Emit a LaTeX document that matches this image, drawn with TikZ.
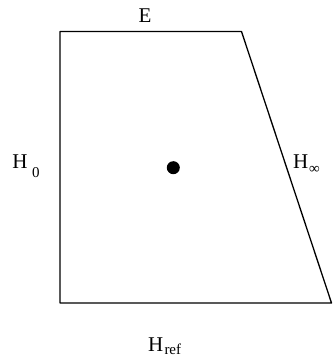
\documentclass[tikz,border=0pt]{standalone}
\usepackage{fontspec}
\setmainfont{Liberation Serif}
\begin{document}
\begin{tikzpicture}[x=1pt,y=-1pt,
  lbl/.style={inner sep=0pt,outer sep=0pt,anchor=base west,font=\fontsize{21}{24}\selectfont},
  sub/.style={inner sep=0pt,outer sep=0pt,anchor=base west,font=\fontsize{15}{17}\selectfont},
  edge/.style={line width=1.3pt,line join=round}]
\useasboundingbox (0,0) rectangle (333,358);
\coordinate (tl) at (60,31.5);
\coordinate (tr) at (241.5,31.5);
\coordinate (br) at (331.5,303);
\coordinate (bl) at (60,303);
\draw[edge] (tl) -- (tr) -- (br) -- (bl) -- cycle;
\fill (173.3,167.7) circle (6.5);
\node[lbl,anchor=base] (E) at (145,22.3) {E};
\node[lbl] (H0) at (12.5,168.3) {H};
\node[sub] (H0s) at (32,177.3) {0};
\node[lbl] (Hi) at (293,168.3) {H};
\node[sub] (His) at (309,173.5) {∞};
\node[lbl] (Hr) at (148,351) {H};
\node[sub] (Hrs) at (164.5,354) {ref};
\end{tikzpicture}
\end{document}
